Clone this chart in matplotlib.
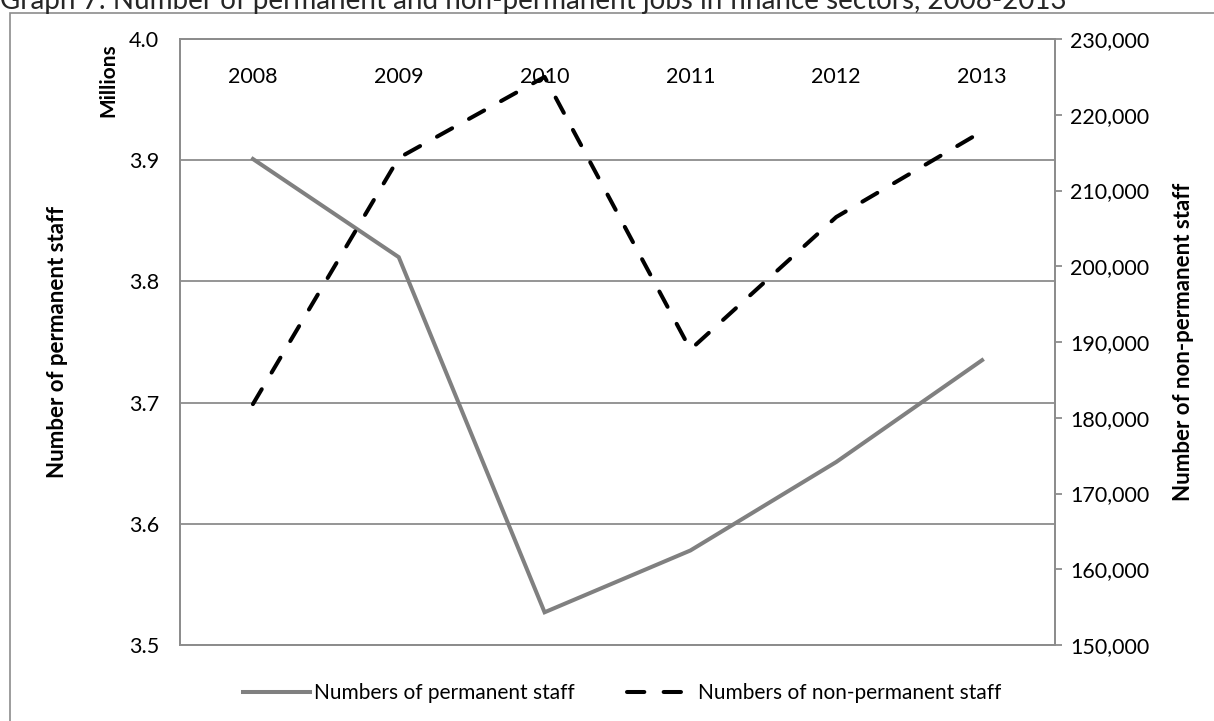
import numpy as np
import matplotlib.pyplot as plt
from matplotlib.ticker import FuncFormatter, MultipleLocator
from matplotlib.patches import Rectangle

# finance sector staff, 2008-2013
years = ['2008', '2009', '2010', '2011', '2012', '2013']
permanent_mn = [3.901, 3.820, 3.527, 3.578, 3.651, 3.735]   # millions
non_permanent = [181800, 214300, 225000, 189000, 206500, 217800]

plt.rcParams['font.family'] = ['Lato', 'DejaVu Sans']
grid_col = '#8c8c8c'
W, H = 1214, 721

fig = plt.figure(figsize=(W / 100, H / 100), dpi=100)

# outer chart frame (runs off the right and bottom edges)
fig.patches.append(Rectangle((10 / W, -0.2), 1.2, 1.2 - 13 / H,
                             transform=fig.transFigure, fill=False,
                             edgecolor=grid_col, lw=1.2))

fig.text(0.0, 1 - 9 / H,
         'Graph 7: Number of permanent and non-permanent jobs in finance sectors, 2008-2013',
         fontsize=20, color='#262626', ha='left', va='baseline')

ax1 = fig.add_axes([180 / W, 1 - 645 / H, 875 / W, 606 / H])
ax2 = ax1.twinx()

x = np.arange(len(years))
l1, = ax1.plot(x, permanent_mn, color='#808080', lw=2.9, solid_joinstyle='miter',
               label='Numbers of permanent staff')
l2, = ax2.plot(x, non_permanent, color='black', lw=2.9, linestyle=(0, (4.3, 4.8)),
               dash_capstyle='round', label='Numbers of non-permanent staff')

ax1.set_xlim(-0.5, len(years) - 0.5)
ax1.set_ylim(3.5, 4.0)
ax1.yaxis.set_major_locator(MultipleLocator(0.1))
ax1.yaxis.set_major_formatter(FuncFormatter(lambda v, p: f'{v:.1f}'))
ax1.set_xticks([])
ax1.grid(axis='y', color=grid_col, lw=1.3)
ax1.set_axisbelow(True)
ax1.tick_params(axis='y', length=0, pad=15, labelsize=15.5)

ax2.set_ylim(150000, 230000)
ax2.yaxis.set_major_locator(MultipleLocator(10000))
ax2.yaxis.set_major_formatter(FuncFormatter(lambda v, p: f'{v:,.0f}'))
ax2.tick_params(axis='y', length=5, width=1.3, color=grid_col, pad=6, labelsize=15.5)

for a in (ax1, ax2):
    for s in a.spines.values():
        s.set_color(grid_col)
        s.set_linewidth(1.3)

# category labels sit inside the plot near the top
for i, yr in enumerate(years):
    ax1.text(i, 0.937, yr, transform=ax1.get_xaxis_transform(),
             ha='center', va='center', fontsize=15.5)

fig.text(108 / W, 1 - 80 / H, 'Millions', rotation=90, ha='center', va='center',
         fontsize=15, fontweight='bold')
fig.text(58 / W, 1 - 342 / H, 'Number of permanent staff', rotation=90,
         ha='center', va='center', fontsize=16, fontweight='bold')
fig.text(1184 / W, 1 - 342 / H, 'Number of non-permanent staff', rotation=90,
         ha='center', va='center', fontsize=16, fontweight='bold')

fig.legend(handles=[l1, l2], loc='center', bbox_to_anchor=(622 / W, 1 - 693 / H),
           ncol=2, frameon=False, fontsize=15, handlelength=3.2,
           handletextpad=0.2, columnspacing=2.5)

fig.savefig('out.png', dpi=100)
